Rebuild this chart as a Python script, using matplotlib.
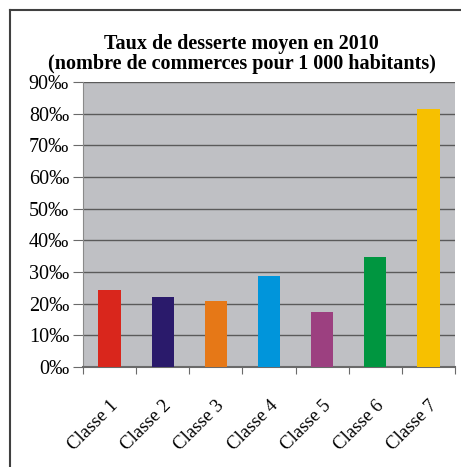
import matplotlib
matplotlib.use("Agg")
import matplotlib.pyplot as plt
from matplotlib.lines import Line2D
from matplotlib.ticker import FixedLocator

# data (per mille)
categories = ["Classe 1", "Classe 2", "Classe 3", "Classe 4", "Classe 5", "Classe 6", "Classe 7"]
values = [24.2, 22.0, 21.0, 28.7, 17.5, 34.8, 81.5]
colors = ["#d9261c", "#2a1a6b", "#e67817", "#0095db", "#9c4080", "#009640", "#f7c000"]
yticks = [0, 10, 20, 30, 40, 50, 60, 70, 80, 90]

plt.rcParams['font.family'] = ['Liberation Serif', 'DejaVu Serif']

W, H = 461, 467
fig = plt.figure(figsize=(W / 100, H / 100), dpi=100)
fig.patch.set_facecolor("white")

# plot area in pixels: x 83..455, y 82..367
ax = fig.add_axes([83 / W, 1 - 367 / H, (455 - 83) / W, (367 - 82) / H])
ax.set_facecolor("#bfc0c4")

x = range(len(categories))
ax.bar(x, values, width=0.42, color=colors, zorder=3)

ax.set_xlim(-0.5, len(categories) - 0.5)
ax.set_ylim(0, 90)
ax.set_yticks(yticks)
ax.set_yticklabels([f"{v}‰" for v in yticks], fontsize=14.5)
ax.yaxis.grid(True, color="#5a5a5a", linewidth=1.0, zorder=1)
ax.set_axisbelow(True)

# category ticks sit between bars, labels at bar centers
ax.xaxis.set_major_locator(FixedLocator([i - 0.5 for i in range(len(categories) + 1)]))
ax.set_xticklabels([])
ax.set_xticks(list(x), minor=True)
ax.set_xticklabels(categories, minor=True, rotation=45, ha="right", rotation_mode="anchor",
                   fontsize=13.5)
ax.tick_params(axis="x", which="minor", length=0, pad=22)
ax.tick_params(axis="x", which="major", length=5, color="#6a6a6a", direction="out")
ax.tick_params(axis="y", length=7, color="#6a6a6a", pad=3)

for s in ["top", "right"]:
    ax.spines[s].set_visible(False)
ax.spines["left"].set_color("#8a8a8a")
ax.spines["bottom"].set_color("#6a6a6a")
ax.spines["bottom"].set_linewidth(1.5)

fig.text(0.5 * (50 + 433) / W, 1 - 54 / H,
         "Taux de desserte moyen en 2010\n(nombre de commerces pour 1 000 habitants)",
         ha="center", va="center", fontsize=14.5, fontweight="bold", linespacing=1.05)

# outer frame (only left and top edges visible in the reference)
fig.add_artist(Line2D([10 / W, 10 / W], [0, 1 - 10 / H], transform=fig.transFigure,
                      color="#404040", linewidth=1.5))
fig.add_artist(Line2D([10 / W, 1], [1 - 10 / H, 1 - 10 / H], transform=fig.transFigure,
                      color="#404040", linewidth=1.5))

fig.savefig("out.png", dpi=100)
